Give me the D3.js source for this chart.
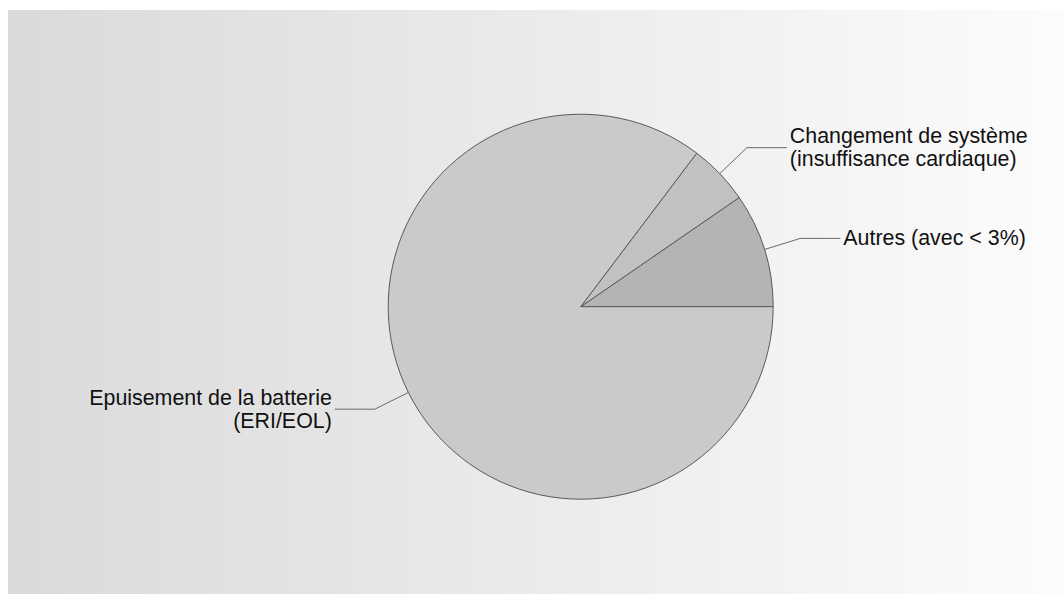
<!DOCTYPE html>
<html>
<head>
<meta charset="utf-8">
<script src="https://cdn.jsdelivr.net/npm/d3@7"></script>
<style>
html,body{margin:0;padding:0;background:#fff;}
svg{display:block;}
</style>
</head>
<body>
<svg id="chart" width="1063" height="594"></svg>
<script>
// Data (order: counter-clockwise from 3 o'clock)
const categories = ["Autres (avec < 3%)", "Changement de système\n(insuffisance cardiaque)", "Epuisement de la batterie\n(ERI/EOL)"];
const values = [9.6, 5.1, 85.3];
const colors = ["#b4b4b4", "#c1c1c1", "#cacaca"];

const svg = d3.select("#chart");
const W = 1063, H = 594;

const defs = svg.append("defs");
const grad = defs.append("linearGradient").attr("id", "bg").attr("x1", "0").attr("y1", "0").attr("x2", "1").attr("y2", "0");
grad.append("stop").attr("offset", "0").attr("stop-color", "#dadada");
grad.append("stop").attr("offset", "1").attr("stop-color", "#fcfcfc");

svg.append("rect").attr("x", 8).attr("y", 10).attr("width", W - 8).attr("height", H - 10).attr("fill", "url(#bg)");

const cx = 580.7, cy = 306.7, r = 192.5;
const g = svg.append("g").attr("transform", `translate(${cx},${cy})`);

const data = categories.map((c, i) => ({ cat: c, value: values[i], color: colors[i] }));
const pie = d3.pie().value(d => d.value).sort(null)
  .startAngle(Math.PI / 2).endAngle(Math.PI / 2 - 2 * Math.PI);
const arcs = pie(data);
const arc = d3.arc().innerRadius(0).outerRadius(r);

g.selectAll("path.slice").data(arcs).join("path")
  .attr("class", "slice")
  .attr("d", arc)
  .attr("fill", d => d.data.color)
  .attr("stroke", "#5a5a5a")
  .attr("stroke-width", 1)
  .attr("stroke-linejoin", "round");

const rElbow = 230, hLen = 40, fs = 21.4, lh = 23;
arcs.forEach(d => {
  const mid = (d.startAngle + d.endAngle) / 2;
  const sx = Math.sin(mid), sy = -Math.cos(mid);
  const p0 = [sx * r, sy * r];
  const p1 = [sx * rElbow, sy * rElbow];
  const right = sx >= 0;
  const p2 = [p1[0] + (right ? hLen : -hLen), p1[1]];
  g.append("polyline")
    .attr("points", [p0, p1, p2].map(p => p.join(",")).join(" "))
    .attr("fill", "none").attr("stroke", "#6a6a6a").attr("stroke-width", 1);
  const lines = d.data.cat.split("\n");
  const tx = p2[0] + (right ? 3 : -3);
  const startY = p1[1] - ((lines.length - 1) * lh) / 2 + 7;
  const t = g.append("text")
    .attr("font-family", "'Liberation Sans', Arial, sans-serif")
    .attr("font-size", fs)
    .attr("fill", "#111")
    .attr("text-anchor", right ? "start" : "end");
  lines.forEach((ln, i) => {
    t.append("tspan").attr("x", tx).attr("y", startY + i * lh).text(ln);
  });
});
</script>
</body>
</html>
